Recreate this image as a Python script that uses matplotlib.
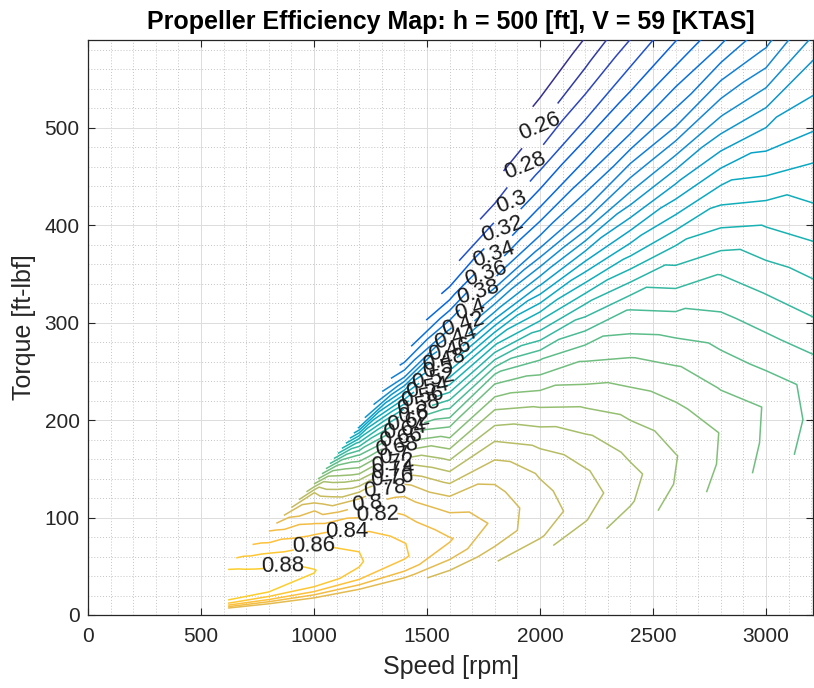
import numpy as np
import matplotlib
matplotlib.use("Agg")
import matplotlib.pyplot as plt
from matplotlib.colors import LinearSegmentedColormap
from matplotlib.ticker import MultipleLocator

plt.rcParams['font.family'] = ['Liberation Sans', 'DejaVu Sans']

# ---------------- data (read from the reference map) ----------------
# grid: propeller speed [rpm] x torque coefficient (torque / rpm^2 * 1e5)
speed_rpm = [620, 800, 1000, 1200, 1400, 1600, 1800, 2000, 2200, 2400, 2600, 2800, 3000, 3250]
torque_coef = [1.68, 2.0, 2.4, 3.0, 3.7, 4.5, 5.5, 6.5, 7.5, 8.5, 9.5, 10.5, 11.5, 12.5, 13.45]

# efficiency along torque_coef for each speed
eff_620 = [0.790, 0.808, 0.830, 0.856, 0.876, 0.886, 0.892, 0.895, 0.895, 0.894, 0.892, 0.889, 0.884, 0.878, 0.870]
eff_800 = [0.793, 0.812, 0.837, 0.861, 0.880, 0.889, 0.891, 0.887, 0.880, 0.873, 0.864, 0.854, 0.841, 0.831, 0.820]
eff_1000 = [0.795, 0.816, 0.840, 0.864, 0.877, 0.881, 0.876, 0.868, 0.854, 0.835, 0.818, 0.804, 0.780, 0.762, 0.700]
eff_1200 = [0.790, 0.811, 0.835, 0.857, 0.862, 0.860, 0.847, 0.829, 0.808, 0.772, 0.725, 0.680, 0.635, 0.567, 0.473]
eff_1400 = [0.785, 0.803, 0.826, 0.842, 0.841, 0.831, 0.816, 0.793, 0.755, 0.705, 0.651, 0.583, 0.504, 0.416, 0.369]
eff_1600 = [0.775, 0.790, 0.808, 0.822, 0.810, 0.790, 0.751, 0.707, 0.662, 0.608, 0.542, 0.468, 0.396, 0.345, 0.309]
eff_1800 = [0.761, 0.774, 0.788, 0.796, 0.787, 0.774, 0.740, 0.700, 0.651, 0.564, 0.468, 0.389, 0.337, 0.298, 0.266]
eff_2000 = [0.745, 0.762, 0.772, 0.767, 0.757, 0.733, 0.693, 0.643, 0.564, 0.476, 0.393, 0.338, 0.296, 0.261, 0.235]
eff_2200 = [0.728, 0.741, 0.749, 0.743, 0.725, 0.696, 0.655, 0.588, 0.500, 0.407, 0.347, 0.300, 0.263, 0.232, 0.215]
eff_2400 = [0.711, 0.722, 0.727, 0.714, 0.693, 0.664, 0.617, 0.531, 0.443, 0.364, 0.311, 0.270, 0.236, 0.215, 0.200]
eff_2600 = [0.693, 0.699, 0.701, 0.688, 0.664, 0.626, 0.569, 0.484, 0.392, 0.330, 0.282, 0.245, 0.225, 0.210, 0.195]
eff_2800 = [0.674, 0.678, 0.679, 0.658, 0.631, 0.598, 0.531, 0.442, 0.357, 0.300, 0.258, 0.230, 0.215, 0.200, 0.190]
eff_3000 = [0.654, 0.657, 0.658, 0.630, 0.598, 0.556, 0.485, 0.397, 0.328, 0.276, 0.237, 0.220, 0.205, 0.195, 0.185]
eff_3250 = [0.626, 0.631, 0.625, 0.592, 0.554, 0.513, 0.458, 0.380, 0.311, 0.262, 0.230, 0.215, 0.200, 0.190, 0.180]

contour_levels = np.round(np.arange(24, 89, 2) / 100.0, 2)

# labelled levels and their anchor points (speed, torque)
label_levels = [0.26, 0.28, 0.30, 0.32, 0.34, 0.36, 0.38, 0.40, 0.42, 0.44, 0.46, 0.48, 0.50, 0.52, 0.54, 0.56,
                0.58, 0.60, 0.62, 0.64, 0.66, 0.68, 0.70, 0.72, 0.74, 0.76, 0.78, 0.80, 0.82, 0.84, 0.86, 0.88]
label_speed = [2000, 1934, 1876, 1836, 1796, 1761, 1726, 1690, 1659, 1628, 1602, 1575, 1549, 1527, 1504, 1482,
               1460, 1438, 1420, 1403, 1385, 1367, 1354, 1345, 1345, 1341, 1314, 1235, 1283, 1146, 996, 863]
label_torque = [501, 462, 423, 393, 370, 349, 331, 313, 298, 284, 272, 260, 249, 239, 229, 221,
                213, 204, 196, 188, 181, 173, 167, 162, 158, 154, 140, 120, 104, 94, 72, 49]

# ---------------- parula-like colormap ----------------
parula_anchors = [
    (0.2081, 0.1663, 0.5292), (0.1707, 0.2919, 0.7792), (0.0117, 0.3875, 0.8820),
    (0.0793, 0.5200, 0.8312), (0.0228, 0.6535, 0.7768), (0.0843, 0.6928, 0.7062),
    (0.2178, 0.7250, 0.6193), (0.3953, 0.7459, 0.5244), (0.5709, 0.7485, 0.4494),
    (0.7184, 0.7411, 0.3905), (0.8507, 0.7299, 0.3360), (0.9938, 0.7455, 0.2403),
    (0.9880, 0.8066, 0.1794), (0.9598, 0.9218, 0.0948), (0.9763, 0.9831, 0.0538)]
parula_pos = [0, 5, 8, 16, 24, 28, 32, 36, 40, 44, 48, 52, 56, 60, 63]
parula = LinearSegmentedColormap.from_list(
    'parula', [(p / 63.0, c) for p, c in zip(parula_pos, parula_anchors)])

# ---------------- build grid ----------------
S, C = np.meshgrid(np.array(speed_rpm, float), np.array(torque_coef, float))
TQ = C * S ** 2 * 1e-5
EFF = np.column_stack([eff_620, eff_800, eff_1000, eff_1200, eff_1400, eff_1600, eff_1800,
                       eff_2000, eff_2200, eff_2400, eff_2600, eff_2800, eff_3000, eff_3250])

fig = plt.figure(figsize=(8.14, 6.88), dpi=100)
ax = fig.add_axes([88 / 814, 73 / 688, 725 / 814, 575 / 688])

cs = ax.contour(S, TQ, EFF, levels=contour_levels, cmap=parula, vmin=0.23, vmax=0.96,
                linewidths=1.1, zorder=3)

fmt = lambda v: f"{v:g}"
# set up label properties, then place one label per level near its anchor
ax.clabel(cs, manual=[], inline=True, inline_spacing=2, fmt=fmt, fontsize=16, colors='#1a1a1a')
lev_list = [round(float(v), 2) for v in contour_levels]
for lv, xs, ys in zip(label_levels, label_speed, label_torque):
    cs.labelIndiceList = [lev_list.index(round(lv, 2))]
    cs.add_label_near(xs, ys, inline=True, inline_spacing=2)

ax.set_xlim(0, 3208)
ax.set_ylim(0, 590)
ax.set_xticks(range(0, 3001, 500))
ax.set_yticks(range(0, 501, 100))
ax.xaxis.set_minor_locator(MultipleLocator(100))
ax.yaxis.set_minor_locator(MultipleLocator(20))
ax.grid(which='major', color='#dcdcdc', lw=0.7, ls='-')
ax.grid(which='minor', color='#c4c4c4', lw=0.7, ls=(0, (1, 2)))
ax.set_axisbelow(True)
ax.tick_params(which='major', direction='in', top=True, right=True, length=5,
               labelsize=15, color='#262626', labelcolor='#262626', width=0.8)
ax.tick_params(axis='x', which='major', pad=9)
ax.tick_params(axis='y', which='major', pad=6)
ax.tick_params(which='minor', length=0)
for sp in ax.spines.values():
    sp.set_color('#262626')
    sp.set_linewidth(0.9)

ax.set_title('Propeller Efficiency Map: h = 500 [ft], V = 59 [KTAS]', fontsize=18,
             fontweight='bold', pad=8, color='black')
ax.set_xlabel('Speed [rpm]', fontsize=18, color='#262626', labelpad=6)
ax.set_ylabel('Torque [ft-lbf]', fontsize=18, color='#262626', labelpad=6)

fig.savefig('out.png', dpi=100)
